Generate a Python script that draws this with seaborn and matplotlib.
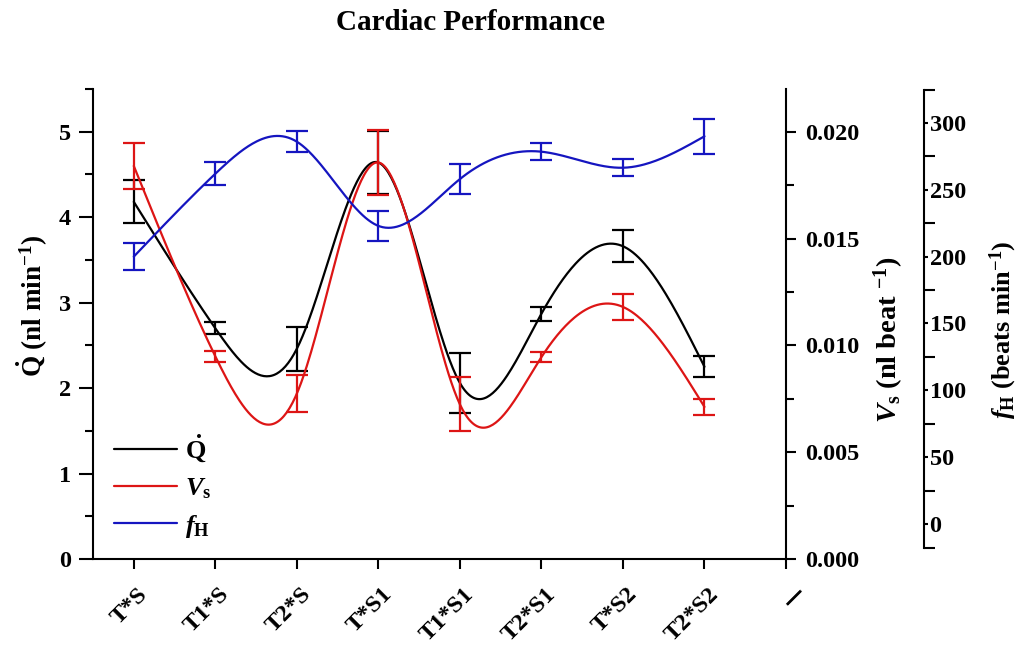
import numpy as np
import pandas as pd
import matplotlib
matplotlib.use("Agg")
import matplotlib.pyplot as plt
import matplotlib.ticker as mticker
import matplotlib.transforms as mtransforms
import seaborn as sns

# ---------------- data ----------------
categories = ["T*S", "T1*S", "T2*S", "T*S1", "T1*S1", "T2*S1", "T*S2", "T2*S2"]
extra_tick = ["\u2013"]
q_vals = [4.18, 2.70, 2.46, 4.64, 2.06, 2.87, 3.66, 2.25]
q_err = [0.25, 0.07, 0.26, 0.37, 0.35, 0.08, 0.19, 0.12]
vs_vals = [0.0184, 0.00949, 0.00774, 0.01856, 0.00724, 0.00945, 0.0118, 0.00712]
vs_err = [0.00108, 0.00026, 0.00087, 0.00152, 0.00126, 0.00023, 0.0006, 0.00037]
fh_vals = [200, 262, 286, 223, 258, 278.5, 266.5, 290]
fh_err = [10, 8.7, 7.7, 11.5, 11.2, 6.2, 6.2, 13]

BLACK = "#000000"
RED = "#dd1515"
BLUE = "#1515c0"


def natural_spline(x, y, n=400):
    x = np.asarray(x, float)
    y = np.asarray(y, float)
    k = len(x)
    h = np.diff(x)
    A = np.zeros((k, k))
    b = np.zeros(k)
    A[0, 0] = 1
    A[-1, -1] = 1
    for i in range(1, k - 1):
        A[i, i - 1] = h[i - 1]
        A[i, i] = 2 * (h[i - 1] + h[i])
        A[i, i + 1] = h[i]
        b[i] = 6 * ((y[i + 1] - y[i]) / h[i] - (y[i] - y[i - 1]) / h[i - 1])
    M = np.linalg.solve(A, b)
    xs = np.linspace(x[0], x[-1], n)
    idx = np.clip(np.searchsorted(x, xs) - 1, 0, k - 2)
    x0, x1 = x[idx], x[idx + 1]
    hh = x1 - x0
    ys = (M[idx] * (x1 - xs) ** 3 / (6 * hh) + M[idx + 1] * (xs - x0) ** 3 / (6 * hh)
          + (y[idx] / hh - M[idx] * hh / 6) * (x1 - xs)
          + (y[idx + 1] / hh - M[idx + 1] * hh / 6) * (xs - x0))
    return xs, ys


sns.set_theme(style="ticks")
plt.rcParams.update({
    "font.family": ["Liberation Serif", "DejaVu Serif"],
    "font.weight": "bold",
    "axes.labelweight": "bold",
    "mathtext.fontset": "custom",
    "mathtext.rm": "Liberation Serif:bold",
    "mathtext.bf": "Liberation Serif:bold",
    "mathtext.it": "Liberation Serif:italic:bold",
    "axes.linewidth": 1.5,
    "text.color": "black",
    "axes.labelcolor": "black",
    "axes.edgecolor": "black",
    "xtick.color": "black",
    "ytick.color": "black",
})

xpos = np.arange(1, len(categories) + 1)

fig = plt.figure(figsize=(10.19, 6.47), dpi=100)
ax = fig.add_axes([93 / 1019, 1 - 559 / 647, 693 / 1019, 470 / 647])
ax2 = ax.twinx()
ax3 = ax.twinx()
ax3.spines["right"].set_position(("axes", (924 - 93) / 693))

lw = 1.6
cap = 8

# Q (left)
xs, ys = natural_spline(xpos, q_vals)
sns.lineplot(x=xs, y=ys, ax=ax, color=BLACK, lw=lw, legend=False, sort=False)
ax.errorbar(xpos, q_vals, yerr=q_err, fmt="none", ecolor=BLACK, elinewidth=lw,
            capsize=cap, capthick=lw)

# Vs (right 1)
xs, ys = natural_spline(xpos, vs_vals)
sns.lineplot(x=xs, y=ys, ax=ax2, color=RED, lw=lw, legend=False, sort=False)
ax2.errorbar(xpos, vs_vals, yerr=vs_err, fmt="none", ecolor=RED, elinewidth=lw,
             capsize=cap, capthick=lw)

# fH (right 2)
xs, ys = natural_spline(xpos, fh_vals)
sns.lineplot(x=xs, y=ys, ax=ax3, color=BLUE, lw=lw, legend=False, sort=False)
ax3.errorbar(xpos, fh_vals, yerr=fh_err, fmt="none", ecolor=BLUE, elinewidth=lw,
             capsize=cap, capthick=lw)

# limits
ax.set_xlim(0.5, len(categories) + 1)
ax.set_ylim(0, 5.5)
ax2.set_ylim(0, 0.022)
ax3.set_ylim(-26.2, 325.4)

# spines
for a in (ax, ax2, ax3):
    a.spines["top"].set_visible(False)
ax.spines["right"].set_visible(False)
ax2.spines["left"].set_visible(False)
ax2.spines["bottom"].set_visible(False)
ax3.spines["left"].set_visible(False)
ax3.spines["bottom"].set_visible(False)
ax3.spines["right"].set_bounds(-18, 325)
for a in (ax, ax2, ax3):
    for s in a.spines.values():
        s.set_linewidth(1.5)
        s.set_color("black")

tfs = 17.5
# x ticks
ax.set_xticks(np.arange(1, len(categories) + 2))
ax.set_xticklabels(categories + extra_tick, rotation=45, ha="right", va="top",
                   fontsize=tfs, fontweight="bold")
ax.get_xticklabels()[-1].set_fontsize(28)
ax.tick_params(axis="x", direction="out", length=7, width=1.5, pad=11)
offset = mtransforms.ScaledTranslation(18 / 100, 0, fig.dpi_scale_trans)
offset_dash = mtransforms.ScaledTranslation(28 / 100, 6 / 100, fig.dpi_scale_trans)
xlabs = ax.get_xticklabels()
for lab in xlabs[:-1]:
    lab.set_transform(lab.get_transform() + offset)
xlabs[-1].set_transform(xlabs[-1].get_transform() + offset_dash)

# left y
ax.yaxis.set_major_locator(mticker.MultipleLocator(1))
ax.yaxis.set_minor_locator(mticker.MultipleLocator(0.5))
ax.yaxis.set_major_formatter(mticker.FormatStrFormatter("%d"))
ax.tick_params(axis="y", which="major", direction="out", length=10, width=1.5,
               pad=6, labelsize=tfs)
ax.tick_params(axis="y", which="minor", direction="out", length=6, width=1.5)

# Vs
ax2.yaxis.set_major_locator(mticker.MultipleLocator(0.005))
ax2.yaxis.set_minor_locator(mticker.MultipleLocator(0.0025))
ax2.yaxis.set_major_formatter(mticker.FormatStrFormatter("%.3f"))
ax2.tick_params(axis="y", which="major", direction="out", length=7, width=1.5,
                pad=7, labelsize=tfs)
ax2.tick_params(axis="y", which="minor", direction="out", length=6, width=1.5)

# fH
ax3.yaxis.set_major_locator(mticker.FixedLocator([0, 50, 100, 150, 200, 250, 300]))
ax3.yaxis.set_minor_locator(mticker.FixedLocator([-18, 25, 75, 125, 175, 225, 275, 325]))
ax3.yaxis.set_major_formatter(mticker.FormatStrFormatter("%d"))
ax3.tick_params(axis="y", which="major", direction="out", length=3, width=1.5,
                pad=1, labelsize=tfs)
ax3.tick_params(axis="y", which="minor", direction="out", length=8, width=1.5)

for a in (ax, ax2, ax3):
    for lab in a.get_yticklabels():
        lab.set_fontweight("bold")

# axis labels
ax.set_ylabel(r"$\dot{\mathrm{Q}}$ (nl min$^{\mathrm{-1}}$)", fontsize=19.5,
              ha="center", va="center")
ax.yaxis.set_label_coords((32 - 93) / 693, (559 - 306) / 470)
ax2.set_ylabel(r"$V_{\mathrm{s}}$ (nl beat $^{\mathrm{-1}}$)", fontsize=20.5,
               ha="center", va="center", rotation=90)
ax2.yaxis.set_label_coords((889 - 93) / 693, (559 - 340) / 470)
ax3.set_ylabel(r"$f_{\mathrm{H}}$ (beats min$^{\mathrm{-1}}$)", fontsize=19,
               ha="center", va="center", rotation=90)
ax3.yaxis.set_label_coords((1003 - 93) / 693, (559 - 330) / 470)

# legend
handles = [ax.get_lines()[0], ax2.get_lines()[0], ax3.get_lines()[0]]
labels = [r"$\dot{\mathrm{Q}}$", r"$V_{\mathrm{s}}$", r"$f_{\mathrm{H}}$"]
leg = ax3.legend(handles, labels, loc="lower left",
                 bbox_to_anchor=((114 - 93) / 693, 0.041), frameon=False,
                 fontsize=19, handlelength=2.39, handletextpad=0.3,
                 labelspacing=0.45, borderaxespad=0, borderpad=0)

fig.text(471 / 1019, 1 - 22 / 647, "Cardiac Performance", ha="center", va="center",
         fontsize=21, fontweight="bold")

fig.savefig("out.png", dpi=100)
